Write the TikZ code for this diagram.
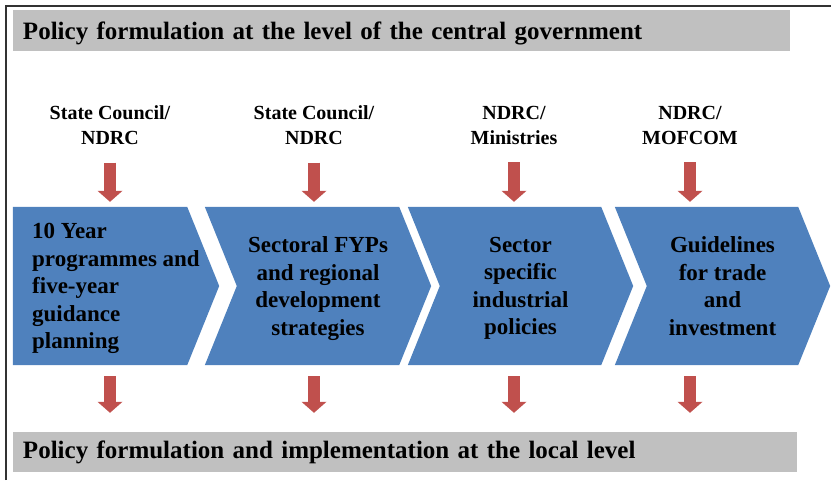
\documentclass[tikz,border=0pt]{standalone}
\usepackage{fontspec}
\setmainfont{Liberation Serif}
\usetikzlibrary{arrows.meta, backgrounds}
\definecolor{stepBlue}{RGB}{79,129,189}
\definecolor{arrowRed}{RGB}{192,80,77}
\definecolor{barGray}{RGB}{192,192,192}
\definecolor{frameGray}{RGB}{50,50,50}
\tikzset{
  bar/.style = {
    fill=barGray,
    inner xsep=10pt,
    inner ysep=0pt,
    align=left,
    text depth=0pt,
    font=\fontsize{25}{30}\selectfont\bfseries,
  },
  stepBox/.style = {
    minimum height=158pt,
    inner sep=0pt,
    align=center,
    text depth=0pt,
    font=\fontsize{23}{27.5}\selectfont\bfseries,
  },
  source/.style = {
    align=center,
    inner sep=0pt,
    font=\fontsize{20}{25}\selectfont\bfseries,
  },
  downArrow/.style = {
    draw=arrowRed,
    line width=12pt,
    -{Triangle[width=25pt, length=11pt, line width=0pt]},
  },
}

\begin{document}
\begin{tikzpicture}[x=1pt, y=-1pt]
\useasboundingbox (0,0) rectangle (831,480);
\draw[frameGray, line width=2pt] (6,480) -- (6,6) -- (831,6);

% the two levels
\node(Central)[bar, minimum width=777pt, minimum height=41pt, text width=757pt, text height=17.5pt] at (401.5,30.5)
  {Policy formulation at the level of the central government};
\node(Local)[bar, minimum width=784pt, minimum height=40pt, text width=764pt, text height=12pt] at (405,452)
  {Policy formulation and implementation at the local level};

% the four steps
\node(Plan)[stepBox, minimum width=206pt, align=left] at (116,286)
  {10 Year\\programmes and\\five-year\\guidance\\planning};
\node(Sectoral)[stepBox, minimum width=226pt] at (318,286)
  {Sectoral FYPs\\and regional\\development\\strategies};
\node(Industrial)[stepBox, minimum width=225pt] at (520.5,286)
  {Sector\\specific\\industrial\\policies};
\node(Trade)[stepBox, minimum width=215pt] at (722.5,286)
  {Guidelines\\for trade\\and\\investment};

\begin{scope}[on background layer]
  \fill[stepBlue] (Plan.north west) -- ([xshift=-32pt]Plan.north east) -- (Plan.east)
    -- ([xshift=-32pt]Plan.south east) -- (Plan.south west) -- cycle;
  \foreach \s in {Sectoral, Industrial, Trade}
    \fill[stepBlue] (\s.north west) -- ([xshift=-32pt]\s.north east) -- (\s.east)
      -- ([xshift=-32pt]\s.south east) -- (\s.south west) -- ([xshift=32pt]\s.west) -- cycle;
\end{scope}

% who is in charge
\node(SrcPlan)[source] at (110,125) {State Council/\\NDRC};
\node(SrcSectoral)[source] at (314,125) {State Council/\\NDRC};
\node(SrcIndustrial)[source] at (514,125) {NDRC/\\Ministries};
\node(SrcTrade)[source] at (690,125) {NDRC/\\MOFCOM};

\foreach \src/\step in {SrcPlan/Plan, SrcSectoral/Sectoral, SrcIndustrial/Industrial, SrcTrade/Trade} {
  \draw[downArrow, shorten <=18pt, shorten >=5pt] (\src) -- (\src |- \step.north);
  \draw[downArrow, shorten <=11pt, shorten >=19pt] (\src |- \step.south) -- (\src |- Local.north);
}

\end{tikzpicture}
\end{document}
